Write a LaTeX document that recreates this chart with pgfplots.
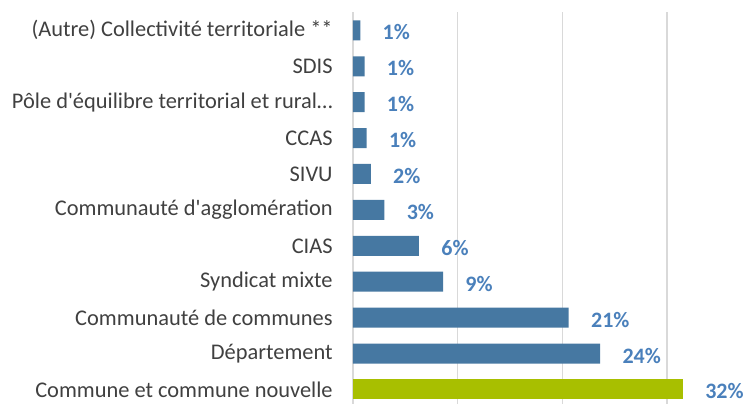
\documentclass[border=0pt]{standalone}
\usepackage{fontspec}
\setmainfont{Carlito}
\usepackage{pgfplots}
\usepackage{pgfplotstable}
\pgfplotsset{compat=1.18}
\definecolor{barblue}{HTML}{4678A2}
\definecolor{bargreen}{HTML}{A8BF00}
\definecolor{lblblue}{HTML}{4A80BB}
\definecolor{gridgray}{HTML}{D9D9D9}

% y = position, x = share (%), lbl = printed value
\pgfplotstableread{
y x lbl
1 23.6 24
2 20.6 21
3 8.6 9
4 6.3 6
5 3.0 3
6 1.7 2
7 1.3 1
8 1.1 1
9 1.1 1
10 0.7 1
}\bluedata
\pgfplotstableread{
y x lbl
0 31.5 32
}\greendata

\begin{document}
\begin{tikzpicture}
\useasboundingbox (-176.5pt,2.2pt) rectangle (200pt,203.7pt);
\begin{axis}[
  at={(0,0)}, anchor=south west,
  scale only axis, width=200pt, height=197.5pt,
  xbar, bar width=10pt, bar shift=0pt,
  xmin=0, xmax=38.2, ymin=-0.5, ymax=10.5,
  xtick={0,10,20,30}, xticklabel=\empty, xmajorgrids,
  grid style={gridgray, line width=0.7pt},
  axis line style={draw=none},
  ytick={0,...,10},
  yticklabels={Commune et commune nouvelle, Département, Communauté de communes, Syndicat mixte, CIAS, Communauté d\textquotesingle agglomération, SIVU, CCAS, Pôle d\textquotesingle équilibre territorial et rural…, SDIS, (Autre) Collectivité territoriale **},
  major tick length=0pt,
  yticklabel style={font=\fontsize{11.2}{13}\selectfont, color=black!75, inner sep=0pt, xshift=-10pt},
  nodes near coords={\pgfplotspointmeta\%},
  point meta=explicit symbolic,
  every node near coord/.append style={font=\bfseries\fontsize{11}{13}\selectfont, color=lblblue, anchor=west, inner sep=0pt, xshift=11pt, yshift=-1pt},
]
\addplot[fill=barblue, draw=none] table[x=x, y=y, meta=lbl] {\bluedata};
\addplot[fill=bargreen, draw=none] table[x=x, y=y, meta=lbl] {\greendata};
\end{axis}
\end{tikzpicture}
\end{document}
